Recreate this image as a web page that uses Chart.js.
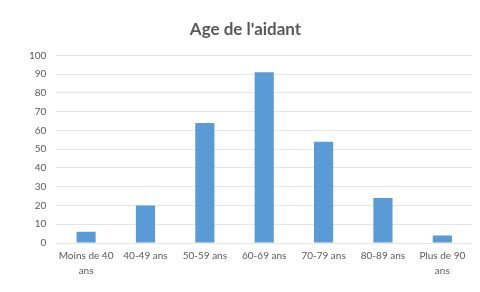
<!DOCTYPE html>
<html>
<head>
<meta charset="utf-8">
<script src="https://cdn.jsdelivr.net/npm/chart.js@4"></script>
<style>
  html, body { margin: 0; padding: 0; background: #fff; }
  #wrap { width: 480px; height: 292px; }
</style>
</head>
<body>
<div id="wrap"><canvas id="chart"></canvas></div>
<script>
const categories = [['Moins de 40', 'ans'], '40-49 ans', '50-59 ans', '60-69 ans', '70-79 ans', '80-89 ans', ['Plus de 90', 'ans']];
const values = [6, 20, 64, 91, 54, 24, 4];
const yTicks = [0, 10, 20, 30, 40, 50, 60, 70, 80, 90, 100];

const ctx = document.getElementById('chart').getContext('2d');
new Chart(ctx, {
    type: 'bar',
    data: {
        labels: categories,
        datasets: [{
            label: "Age de l'aidant",
            data: values,
            backgroundColor: '#5B9BD5',
            barPercentage: 0.62,
            categoryPercentage: 0.52
        }]
    },
    options: {
        responsive: true,
        maintainAspectRatio: false,
        animation: false,
        layout: { padding: { left: 19, right: 8, top: 15, bottom: 9 } },
        plugins: {
            legend: { display: false },
            tooltip: { enabled: false },
            title: {
                display: true,
                text: "Age de l'aidant",
                color: '#595959',
                font: { family: 'Lato', size: 17, weight: 'bold' },
                padding: { top: 4, bottom: 16 }
            }
        },
        scales: {
            x: {
                grid: { display: false, drawTicks: false },
                border: { display: false },
                ticks: {
                    color: '#595959',
                    font: { family: 'Lato', size: 10, lineHeight: 1.5 },
                    maxRotation: 0,
                    autoSkip: false,
                    padding: 5
                }
            },
            y: {
                min: 0,
                max: 100,
                afterBuildTicks: axis => { axis.ticks = yTicks.map(v => ({ value: v })); },
                grid: { color: '#E6E6E6', drawTicks: false },
                border: { display: false },
                ticks: {
                    color: '#595959',
                    font: { family: 'Lato', size: 10 },
                    padding: 10
                }
            }
        }
    }
});
</script>
</body>
</html>
